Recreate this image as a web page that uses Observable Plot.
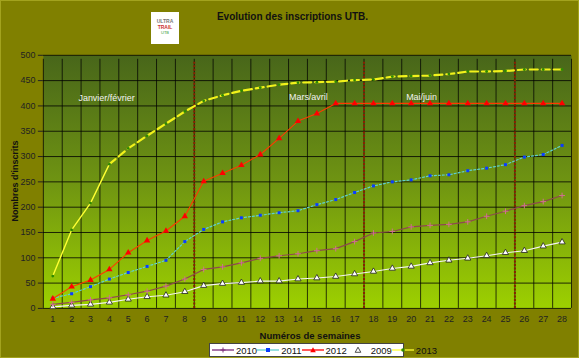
<!DOCTYPE html>
<html><head><meta charset="utf-8">
<script src="https://cdn.jsdelivr.net/npm/d3@7"></script>
<script src="https://cdn.jsdelivr.net/npm/@observablehq/plot@0.6"></script>
<style>
html,body{margin:0;padding:0;background:#808000;}
#wrap{position:relative;width:579px;height:358px;overflow:hidden;background:#808000;font-family:"Liberation Sans",Arial,sans-serif;box-sizing:border-box;border:1px solid #a3a31e;}
#wrap > svg{position:absolute;left:-1px;top:-1px;}
.title{position:absolute;left:0;width:579px;top:10px;text-align:center;font-size:10px;font-weight:bold;color:#111;padding-left:4px;box-sizing:border-box;}
.logo{position:absolute;left:150px;top:11px;width:28px;height:32px;background:#fff;font-size:5px;line-height:6px;text-align:center;color:#555;overflow:hidden;}
.ylab{position:absolute;left:14px;top:180px;transform:translate(-50%,-50%) rotate(-90deg);font-size:9px;font-weight:bold;color:#111;white-space:nowrap;}
.xlab{position:absolute;left:309px;top:334px;transform:translate(-50%,-50%);font-size:9.5px;font-weight:bold;color:#111;white-space:nowrap;}
.legend{position:absolute;left:208px;top:342px;width:195px;height:14px;background:#fff;border:1px solid #444;box-sizing:border-box;display:flex;align-items:center;justify-content:space-around;font-size:9.5px;color:#111;padding:0 2px;}
.legend span{display:flex;align-items:center;}
#wrap .legend svg{position:static;margin-right:2px;}
</style></head><body>
<div id="wrap"></div>
<script>
const weeks = [1,2,3,4,5,6,7,8,9,10,11,12,13,14,15,16,17,18,19,20,21,22,23,24,25,26,27,28];
const yTicks = [0,50,100,150,200,250,300,350,400,450,500];
const v2010 = [8,12,17,21,27,34,44,58,77,82,90,99,104,108,114,118,132,149,152,161,164,166,171,182,192,203,211,223];
const v2011 = [20,29,43,58,71,83,95,132,156,171,179,184,189,193,205,215,229,242,250,254,262,264,272,277,284,299,304,322];
const v2012 = [19,43,56,77,110,134,153,182,251,267,283,304,336,370,385,405,405,405,405,405,405,405,405,405,405,405,405,405];
const v2009 = [3,6,8,12,18,23,26,33,45,49,51,54,54,58,60,63,68,73,79,83,90,95,99,104,110,114,123,131];
const v2013 = [64,155,208,285,316,341,365,389,410,421,430,436,442,446,447,448,451,452,458,459,460,463,468,468,469,472,472,472];
const seriesNames = ["2010","2011","2012","2009","2013"];
const periodBreaks = [8.5,17.5,25.5];
const periodLabels = [
  {text:"Janvier/février", week:3.85, value:415},
  {text:"Mars/avril", week:14.55, value:417},
  {text:"Mai/juin", week:20.55, value:417}
];

const rows = (vals) => weeks.map((w,i)=>({week:w, value:vals[i]}));
const d2010 = rows(v2010), d2011 = rows(v2011), d2012 = rows(v2012), d2009 = rows(v2009), d2013 = rows(v2013);
const bounds = weeks.map(w=>w-0.5).concat([weeks[weeks.length-1]+0.5]);

const defsMark = () => {
  const el = document.createElementNS("http://www.w3.org/2000/svg","defs");
  el.innerHTML = '<linearGradient id="bgGrad" x1="0" y1="0" x2="0" y2="1"><stop offset="0" stop-color="#48661a"/><stop offset="0.5" stop-color="#6f9412"/><stop offset="1" stop-color="#9dd000"/></linearGradient>';
  return el;
};

const chart = Plot.plot({
  width: 579, height: 358,
  marginTop: 55, marginRight: 6, marginBottom: 49, marginLeft: 43,
  style: {background:"transparent", color:"#222", fontFamily:"'Liberation Sans', Arial, sans-serif", fontSize:"9px"},
  x: {type:"linear", domain:[0.5,28.5]},
  y: {type:"linear", domain:[0,500]},
  marks: [
    defsMark,
    Plot.frame({fill:"url(#bgGrad)", stroke:null}),
    Plot.ruleY(yTicks, {stroke:"#000", strokeWidth:1, strokeOpacity:0.8}),
    Plot.ruleX(bounds, {y1:0, y2:500, stroke:"#000", strokeWidth:1, strokeOpacity:0.75, insetBottom:-4}),
    Plot.ruleX(periodBreaks, {y1:0, y2:500, stroke:"#8a1f00", strokeWidth:2, strokeDasharray:"2,1.5", insetBottom:-6}),
    // 2009
    Plot.line(d2009, {x:"week", y:"value", stroke:"#f4f4f4", strokeWidth:1.1}),
    Plot.dot(d2009, {x:"week", y:"value", symbol:"triangle", r:2.3, fill:"#fff", stroke:"#222", strokeWidth:0.8}),
    // 2010
    Plot.line(d2010, {x:"week", y:"value", stroke:"#8e4a4e", strokeWidth:1.2}),
    Plot.dot(d2010, {x:"week", y:"value", symbol:"plus", r:2, stroke:"#d07090", strokeWidth:1}),
    // 2011
    Plot.line(d2011, {x:"week", y:"value", stroke:"#5fd0d0", strokeWidth:1.2, strokeDasharray:"2,2"}),
    Plot.dot(d2011, {x:"week", y:"value", symbol:"square", r:1.7, fill:"#0a3cff", stroke:null}),
    // 2012
    Plot.line(d2012, {x:"week", y:"value", stroke:"#ff3a00", strokeWidth:1.1}),
    Plot.dot(d2012, {x:"week", y:"value", symbol:"triangle", r:2.4, fill:"#ff0000", stroke:null}),
    // 2013
    Plot.line(d2013.slice(0,4), {x:"week", y:"value", stroke:"#ffff33", strokeWidth:1.4}),
    Plot.line(d2013.slice(3), {x:"week", y:"value", stroke:"#f2f21a", strokeWidth:2.2, strokeDasharray:"8,4"}),
    Plot.dot(d2013, {x:"week", y:"value", r:1.4, fill:"#2f8a00", stroke:null}),
    // period labels
    Plot.text(periodLabels, {x:"week", y:"value", text:"text", fill:"#f2f2f2", fontSize:9}),
    Plot.axisY({ticks:yTicks, tickSize:5, tickPadding:3, label:null, fontSize:9, stroke:"#222"}),
    Plot.axisX({ticks:weeks, tickSize:0, tickPadding:7, label:null, fontSize:9, tickFormat:d=>String(d)})
  ]
});
const wrap = document.getElementById("wrap");
wrap.appendChild(chart);

const add = (cls, html) => { const d=document.createElement("div"); d.className=cls; d.innerHTML=html; wrap.appendChild(d); return d; };
add("title","Evolution des inscriptions UTB.");
add("logo",'<div style="margin-top:6px;font-weight:bold;color:#777">ULTRA</div><div style="color:#c33;font-weight:bold">TRAIL</div><div style="color:#393;font-size:4px">UTB</div>');
add("ylab","Nombres d'inscrits");
add("xlab","Numéros de semaines");

const sw = (line, marker) => `<svg width="22" height="8" viewBox="0 0 22 8"><line x1="0" y1="4" x2="22" y2="4" stroke="${line}" stroke-width="1.3"/>${marker}</svg>`;
const legendItems = [
  sw("#7a2a7a", '<path d="M11 1.5V6.5M8.5 4H13.5" stroke="#7a2a7a" stroke-width="1"/>'),
  sw("#5fd0d0", '<rect x="9" y="2" width="4" height="4" fill="#0a3cff"/>'),
  sw("#ff0000", '<path d="M11 1.2L13.8 6.3H8.2Z" fill="#ff0000"/>'),
  sw("#ffffff", '<path d="M11 1.2L13.8 6.3H8.2Z" fill="#fff" stroke="#222" stroke-width="0.8"/>'),
  sw("#ffff33", '<circle cx="11" cy="4" r="1.8" fill="#2f8a00"/>')
];
add("legend", seriesNames.map((n,i)=>`<span>${legendItems[i]}${n}</span>`).join(""));
</script>
</body></html>
